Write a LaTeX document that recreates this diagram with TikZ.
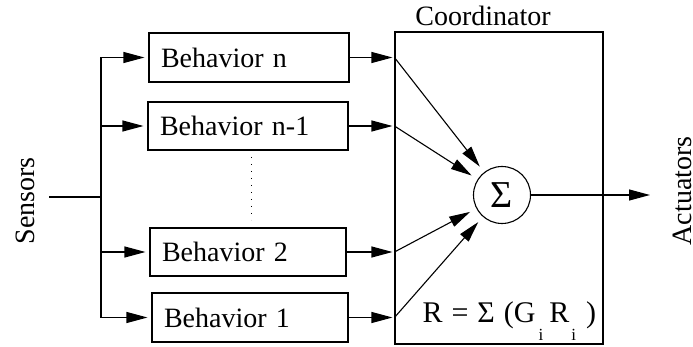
\documentclass[tikz,border=0pt]{standalone}
\usepackage{fontspec}
\setmainfont{Liberation Serif}
\usetikzlibrary{arrows.meta}
\newcommand\lowi{\raisebox{-18pt}{\fontsize{17}{17}\selectfont i}}
\begin{document}
\begin{tikzpicture}[x=1pt,y=-1pt,
  line width=1.1pt,
  txt/.style={font=\fontsize{28}{32}\selectfont, inner sep=0pt},
  behbox/.style={draw, txt, text width=176pt, align=left, inner xsep=12pt, inner ysep=0pt, minimum height=48pt, anchor=center},
  arr/.style={-{Triangle[length=21pt,width=11pt]}},
  sumcircle/.style={draw, circle, minimum size=57pt, inner sep=0pt, font=\fontsize{38}{38}\selectfont}
]
\useasboundingbox (0,0) rectangle (693,347);

% behaviour boxes
\node[behbox, text width=176pt, minimum height=49pt] (bn)  at (249,57.5) {Behavior n};
\node[behbox, text width=176pt] (bn1) at (248,126) {Behavior n-1};
\node[behbox, text width=172pt] (b2)  at (248,252) {Behavior 2};
\node[behbox, text width=172pt, minimum height=49pt] (b1)  at (250,317.5) {Behavior 1};

% coordinator
\node[draw, minimum width=208pt, minimum height=312pt, inner sep=0pt] (coord) at (499,188) {};
\node[txt, anchor=base] (ctitle) at (483,26) {Coordinator};
\node[sumcircle] (sum) at (502,195) {Σ};
\node[txt, font=\fontsize{30}{32}\selectfont, anchor=base west] (formula) at (422,322)
  {R\hspace{9pt}=\hspace{9pt}Σ\hspace{9pt}(G\hspace{3pt}\lowi\hspace{6pt}R\hspace{2pt}\lowi\hspace{10pt})};

% side labels
\node[txt, rotate=90, anchor=north] (sensors) at (15,201) {Sensors};
\node[txt, rotate=90, anchor=north] (actuators) at (672,191) {Actuators};

% sensor bus
\coordinate (sin) at (49,197);
\coordinate (bus) at (101,197);
\coordinate (bustop) at (101,57.5);
\coordinate (busbot) at (101,317.5);
\draw (sin) -- (bus);
\draw (bustop) -- (busbot);
\foreach \b in {bn,bn1,b2,b1}{
  \draw[arr, shorten >=4pt] (bus |- \b.west) -- (\b.west);
}

% behaviours to coordinator, then to sum
\foreach \b in {bn,bn1,b2,b1}{
  \coordinate (p\b) at (coord.west |- \b.east);
  \draw[arr, shorten >=2pt] (\b.east) -- (p\b);
  \draw[arr, shorten >=7pt] (p\b) -- (sum);
}

% output
\coordinate (act) at (650,195);
\draw[arr] (sum.east) -- (act);

% dots
\coordinate (dtop) at (251,157);
\coordinate (dbot) at (251,220);
\draw[line width=1pt, dash pattern=on 1.2pt off 5.8pt] (dtop) -- (dbot);
\end{tikzpicture}
\end{document}
